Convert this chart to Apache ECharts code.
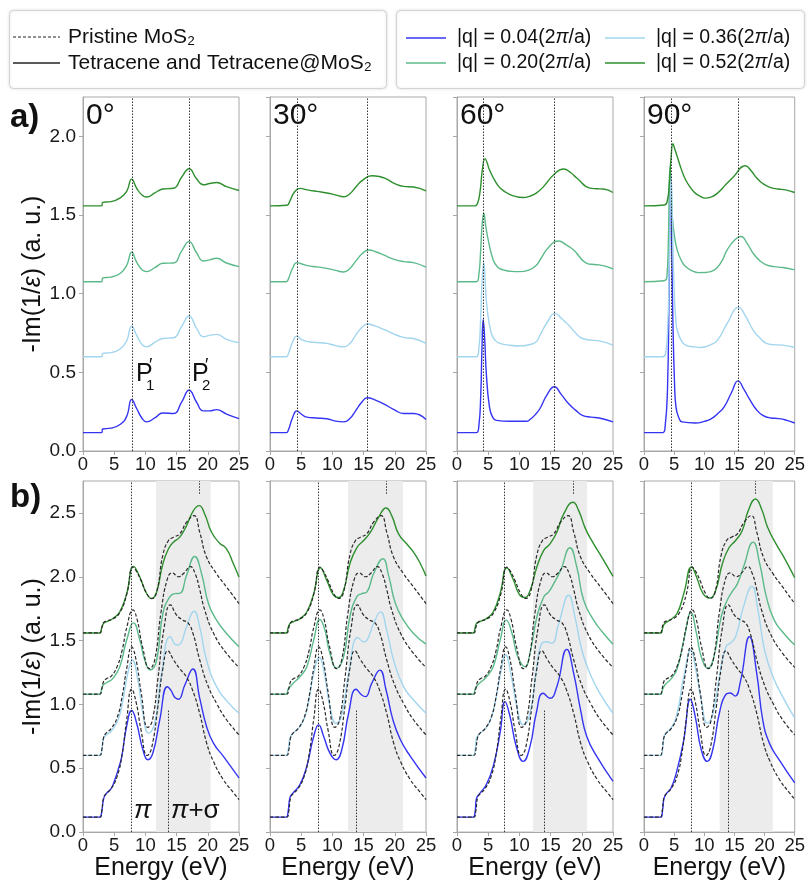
<!DOCTYPE html>
<html><head><meta charset="utf-8">
<script src="https://cdn.jsdelivr.net/npm/echarts@6/dist/echarts.min.js"></script>
<style>html,body{margin:0;padding:0;background:#fff}#c{width:808px;height:882px}</style>
</head><body><div id="c"></div>
<script>
// ---------- Row a) : -Im(1/eps) for tetracene, four angles ----------
const a0_q004=[[0,0.117],[3.0,0.117],[3.15,0.14],[4.5,0.145],[6.0,0.17],[7.0,0.22],[7.8,0.327],[8.6,0.27],[9.5,0.205],[10.2,0.185],[11.5,0.21],[12.8,0.242],[14.5,0.238],[15.8,0.31],[17.0,0.386],[18.2,0.31],[19.3,0.255],[20.3,0.255],[21.4,0.263],[23,0.235],[25,0.206]];
const a0_q036=[[0,0.599],[3.0,0.599],[3.15,0.62],[4.5,0.625],[6,0.65],[7,0.70],[7.8,0.794],[8.6,0.735],[9.5,0.675],[10.2,0.662],[11.5,0.69],[12.8,0.715],[14.5,0.72],[15.8,0.79],[17,0.858],[18.2,0.78],[19.3,0.726],[20.3,0.735],[21.4,0.741],[23,0.71],[25,0.688]];
const a0_q020=[[0,1.076],[3,1.076],[3.15,1.10],[4.5,1.105],[6,1.13],[7,1.18],[7.8,1.263],[8.6,1.20],[9.5,1.15],[10.2,1.14],[11.5,1.165],[12.8,1.193],[14.5,1.195],[15.8,1.27],[17,1.331],[18.2,1.26],[19.3,1.208],[20.3,1.215],[21.4,1.225],[23,1.195],[25,1.172]];
const a0_q052=[[0,1.558],[3,1.558],[3.15,1.58],[4.5,1.585],[6,1.61],[7,1.65],[7.8,1.728],[8.6,1.67],[9.5,1.625],[10.2,1.614],[11.5,1.64],[12.8,1.665],[14.5,1.67],[15.8,1.74],[17,1.794],[18.2,1.73],[19.3,1.692],[20.3,1.70],[21.4,1.707],[23,1.68],[25,1.656]];

const a1_q004=[[0,0.117],[2.6,0.117],[3.0,0.14],[3.6,0.21],[4.3,0.255],[5.0,0.235],[5.9,0.215],[7.5,0.21],[9.1,0.205],[10.5,0.19],[11.8,0.185],[12.8,0.206],[13.8,0.26],[14.6,0.305],[15.6,0.338],[16.8,0.325],[18.2,0.30],[19.8,0.265],[21.4,0.238],[23,0.238],[25,0.200]];
const a1_q036=[[0,0.599],[2.6,0.599],[3.0,0.625],[3.6,0.69],[4.3,0.730],[5.0,0.71],[6.0,0.695],[7.5,0.69],[9.1,0.684],[10.5,0.67],[11.8,0.662],[12.8,0.684],[13.8,0.74],[14.6,0.78],[15.6,0.807],[16.8,0.795],[18.2,0.773],[19.8,0.745],[21.4,0.722],[23,0.715],[25,0.684]];
const a1_q020=[[0,1.076],[2.6,1.076],[3.0,1.10],[3.6,1.16],[4.3,1.197],[5.0,1.19],[6,1.178],[7.5,1.17],[9.1,1.161],[10.5,1.148],[11.8,1.138],[12.8,1.16],[13.8,1.21],[14.8,1.255],[15.8,1.278],[17,1.265],[18.2,1.246],[19.8,1.22],[21.4,1.204],[23,1.197],[25,1.168]];
const a1_q052=[[0,1.558],[2.7,1.562],[3.2,1.59],[3.9,1.645],[4.8,1.669],[6,1.66],[7.5,1.65],[9.1,1.64],[10.5,1.628],[11.8,1.616],[12.8,1.635],[13.8,1.68],[14.8,1.72],[16.3,1.749],[17.5,1.745],[18.7,1.728],[20,1.70],[21.4,1.682],[23,1.678],[25,1.654]];

const a2_q004=[[0,0.117],[3.1,0.117],[3.5,0.16],[3.8,0.35],[4.0,0.65],[4.2,0.836],[4.45,0.70],[4.7,0.493],[5.2,0.28],[5.7,0.215],[6.3,0.195],[8.5,0.189],[11.1,0.189],[11.7,0.2],[12.7,0.238],[13.3,0.27],[14.4,0.355],[15.6,0.408],[16.7,0.36],[17.9,0.30],[19,0.26],[20.1,0.227],[21.5,0.215],[22.8,0.21],[25,0.185]];
const a2_q036=[[0,0.599],[3.1,0.599],[3.5,0.65],[3.8,0.85],[4.05,1.10],[4.3,1.197],[4.55,1.05],[4.8,0.917],[5.5,0.747],[6.2,0.70],[6.9,0.684],[8.5,0.672],[10,0.667],[11.5,0.675],[12.7,0.694],[13.3,0.737],[14.5,0.82],[15.7,0.875],[16.8,0.84],[17.9,0.80],[19,0.75],[20.1,0.715],[21.5,0.705],[22.8,0.70],[25,0.673]];
const a2_q020=[[0,1.076],[3.1,1.076],[3.5,1.12],[3.8,1.28],[4.05,1.45],[4.3,1.512],[4.6,1.43],[5.0,1.342],[5.8,1.214],[6.5,1.17],[7.4,1.151],[8.7,1.142],[10,1.140],[11.5,1.15],[12.7,1.18],[13.3,1.214],[14.8,1.30],[16.3,1.335],[17.5,1.31],[18.7,1.278],[20.8,1.193],[22,1.185],[22.8,1.183],[25,1.157]];
const a2_q052=[[0,1.558],[2.9,1.558],[3.3,1.575],[3.7,1.65],[4.1,1.80],[4.5,1.858],[4.8,1.835],[5.2,1.788],[6.3,1.703],[7.1,1.665],[7.9,1.643],[9.2,1.62],[10.6,1.611],[11.7,1.62],[12.7,1.639],[13.9,1.682],[15.5,1.756],[17.1,1.792],[18.2,1.77],[19.2,1.735],[21.3,1.671],[22.4,1.667],[23.5,1.665],[25,1.643]];

const a3_q004=[[0,0.117],[3.1,0.117],[3.5,0.153],[3.9,0.40],[4.15,1.0],[4.4,1.78],[4.6,1.3],[4.8,0.81],[5.05,0.45],[5.3,0.28],[5.8,0.21],[6.3,0.185],[8.5,0.178],[10,0.188],[11.2,0.206],[12.3,0.24],[13.3,0.28],[14.5,0.37],[15.6,0.446],[16.6,0.39],[17.6,0.323],[18.6,0.265],[19.7,0.227],[21,0.21],[22.4,0.206],[23.7,0.195],[25,0.178]];
const a3_q036=[[0,0.599],[3.1,0.599],[3.6,0.62],[3.95,0.80],[4.2,1.2],[4.5,1.75],[4.75,1.4],[5.0,1.02],[5.25,0.85],[5.5,0.769],[6.2,0.70],[6.9,0.673],[8.2,0.662],[9.5,0.658],[11,0.675],[12.2,0.705],[13.8,0.811],[15.7,0.913],[16.8,0.86],[18.1,0.769],[19.2,0.72],[20.3,0.684],[21.5,0.676],[23,0.673],[25,0.658]];
const a3_q020=[[0,1.076],[3.3,1.082],[3.8,1.108],[4.05,1.35],[4.3,1.805],[4.5,1.65],[4.7,1.49],[5.0,1.38],[5.5,1.278],[6.2,1.21],[6.9,1.172],[8,1.145],[9,1.134],[10.3,1.135],[11.7,1.151],[12.8,1.20],[13.8,1.278],[15,1.34],[16.1,1.363],[17.1,1.32],[18.1,1.257],[19.2,1.21],[20.3,1.183],[21.6,1.172],[23,1.166],[25,1.151]];
const a3_q052=[[0,1.558],[3.4,1.564],[3.9,1.597],[4.2,1.70],[4.5,1.87],[4.8,1.953],[5.1,1.92],[5.5,1.873],[6.2,1.79],[6.9,1.724],[7.7,1.675],[8.5,1.639],[9.3,1.62],[10.1,1.607],[11.2,1.615],[12.2,1.639],[13.5,1.69],[14.9,1.745],[16.8,1.813],[17.8,1.78],[18.7,1.735],[19.7,1.70],[20.8,1.677],[22.2,1.665],[23.5,1.660],[25,1.643]];

// ---------- Row b) : pristine MoS2 (dashed, same in every panel) ----------
const pr_q004=[[0,0.117],[2.7,0.117],[3.0,0.16],[3.3,0.27],[3.7,0.30],[4.5,0.34],[5.5,0.44],[6.3,0.62],[7.0,0.88],[7.8,1.12],[8.5,1.02],[9.3,0.80],[10.3,0.60],[11.0,0.66],[12.0,0.98],[12.8,1.28],[13.6,1.42],[14.5,1.35],[15.5,1.28],[16.5,1.22],[17.5,1.12],[18.7,0.93],[19.8,0.70],[20.9,0.554],[22.5,0.41],[24.1,0.31],[25,0.255]];
const pr_q036=[[0,0.601],[2.7,0.601],[3.0,0.64],[3.3,0.74],[3.7,0.775],[4.5,0.81],[5.5,0.90],[6.3,1.07],[7.0,1.28],[7.8,1.45],[8.5,1.35],[9.3,1.10],[10.4,0.82],[11.1,0.87],[12.0,1.20],[13.0,1.60],[14.0,1.78],[15.0,1.70],[16.0,1.66],[16.8,1.64],[17.6,1.56],[18.7,1.35],[20.0,1.15],[21.5,1.00],[23.0,0.88],[25,0.762]];
const pr_q020=[[0,1.080],[2.7,1.080],[3.0,1.12],[3.3,1.18],[3.7,1.20],[4.5,1.22],[5.5,1.30],[6.3,1.43],[7.0,1.60],[8.0,1.74],[8.7,1.66],[9.5,1.46],[10.7,1.28],[11.5,1.35],[12.5,1.72],[13.5,1.98],[14.3,2.03],[15.3,2.00],[16.2,2.03],[17.2,2.08],[18.0,2.02],[18.7,1.90],[19.5,1.74],[21.0,1.55],[23.0,1.40],[25,1.29]];
const pr_q052=[[0,1.56],[2.7,1.56],[3.0,1.60],[3.3,1.64],[3.8,1.655],[4.8,1.67],[5.9,1.72],[7.0,1.86],[8.0,2.075],[8.6,2.04],[9.3,1.97],[10.2,1.87],[11.0,1.83],[11.8,1.88],[12.8,2.17],[13.7,2.284],[14.5,2.31],[15.5,2.336],[16.6,2.427],[17.8,2.479],[18.7,2.35],[19.8,2.154],[21.4,2.024],[23,1.92],[25,1.79]];

// ---------- Row b) : tetracene@MoS2 (solid) ----------
const b0_q004=[[0,0.117],[2.7,0.117],[3.0,0.16],[3.3,0.26],[3.7,0.30],[4.5,0.34],[5.1,0.41],[5.7,0.50],[6.2,0.59],[7.0,0.83],[7.8,0.952],[8.6,0.853],[9.6,0.645],[10.4,0.567],[11.2,0.619],[12.3,0.879],[13.5,1.139],[14.1,1.11],[14.7,1.056],[15.3,1.041],[16.3,1.15],[17.6,1.277],[18.7,1.05],[19.8,0.827],[20.9,0.697],[22.5,0.593],[25,0.424]];
const b0_q036=[[0,0.601],[2.7,0.601],[3.0,0.64],[3.3,0.735],[3.7,0.76],[4.5,0.79],[5.6,0.879],[6.4,1.035],[7.2,1.25],[7.9,1.348],[8.8,1.19],[9.6,0.931],[10.5,0.775],[11.5,0.853],[12.6,1.243],[14.0,1.530],[15.0,1.465],[15.5,1.47],[16.6,1.608],[17.8,1.730],[18.7,1.608],[19.8,1.348],[21.4,1.139],[23,1.03],[25,0.931]];
const b0_q020=[[0,1.080],[2.7,1.080],[3.0,1.12],[3.3,1.155],[3.8,1.17],[4.8,1.204],[5.9,1.296],[7.0,1.504],[8.1,1.639],[9.1,1.504],[9.9,1.348],[10.8,1.270],[11.8,1.348],[12.8,1.712],[13.9,1.842],[14.7,1.868],[15.5,1.87],[16.6,2.011],[17.9,2.159],[19.0,2.024],[20.1,1.790],[21.4,1.660],[23,1.556],[25,1.452]];
const b0_q052=[[0,1.56],[2.7,1.56],[3.0,1.60],[3.3,1.635],[3.7,1.646],[4.8,1.673],[5.9,1.725],[7.0,1.868],[8.1,2.081],[9.1,1.998],[10.2,1.868],[11.0,1.829],[11.8,1.881],[12.8,2.102],[13.7,2.219],[14.5,2.271],[15.5,2.310],[16.6,2.401],[17.7,2.518],[18.6,2.557],[19.5,2.492],[20.6,2.349],[21.9,2.263],[23,2.219],[24.1,2.102],[25,1.998]];

const b1_q004=[[0,0.117],[2.6,0.117],[2.9,0.16],[3.2,0.27],[3.7,0.307],[4.8,0.372],[5.9,0.515],[7.0,0.749],[7.8,0.840],[8.6,0.749],[9.6,0.619],[10.6,0.567],[11.5,0.645],[12.6,0.931],[13.8,1.119],[14.7,1.074],[15.3,1.061],[16.3,1.165],[17.6,1.269],[18.6,1.113],[19.7,0.879],[20.9,0.723],[22.5,0.593],[25,0.424]];
const b1_q036=[[0,0.601],[2.6,0.601],[2.9,0.64],[3.2,0.736],[3.7,0.775],[4.8,0.827],[5.9,0.957],[7.0,1.243],[7.9,1.368],[8.8,1.217],[9.6,0.983],[10.6,0.853],[11.5,0.918],[12.6,1.243],[14.1,1.524],[15.0,1.491],[15.5,1.50],[16.6,1.634],[17.7,1.725],[18.7,1.582],[19.8,1.348],[21.4,1.139],[23,1.035],[25,0.931]];
const b1_q020=[[0,1.080],[2.6,1.080],[2.9,1.12],[3.2,1.139],[3.7,1.165],[4.8,1.217],[5.9,1.296],[7.0,1.504],[8.0,1.665],[8.8,1.582],[9.6,1.400],[10.7,1.283],[11.8,1.374],[12.8,1.686],[13.9,1.842],[14.7,1.868],[15.5,1.88],[16.6,2.024],[18.1,2.141],[19.0,2.011],[20.1,1.790],[21.4,1.660],[23,1.556],[25,1.472]];
const b1_q052=[[0,1.56],[2.6,1.56],[2.9,1.60],[3.2,1.633],[3.7,1.646],[4.8,1.672],[5.9,1.724],[7.0,1.868],[8.1,2.071],[9.1,1.972],[10.2,1.855],[11.0,1.837],[11.8,1.894],[12.8,2.102],[13.9,2.227],[15.0,2.284],[16.1,2.349],[17.4,2.466],[18.6,2.539],[19.5,2.479],[20.6,2.336],[21.9,2.258],[23,2.193],[24.1,2.102],[25,2.006]];

const b2_q004=[[0,0.117],[2.6,0.117],[2.9,0.16],[3.1,0.26],[3.6,0.30],[4.7,0.372],[5.8,0.515],[6.9,0.775],[7.7,1.022],[8.5,0.905],[9.5,0.671],[10.6,0.554],[11.7,0.671],[12.7,0.931],[13.8,1.087],[14.9,1.048],[16.0,1.139],[17.6,1.431],[18.7,1.243],[19.8,0.957],[20.8,0.749],[22.4,0.593],[25,0.398]];
const b2_q036=[[0,0.601],[2.6,0.601],[2.9,0.64],[3.1,0.73],[3.6,0.77],[4.7,0.82],[5.8,0.95],[6.9,1.22],[7.8,1.387],[8.7,1.22],[9.6,0.98],[10.6,0.840],[11.7,0.931],[12.8,1.296],[13.6,1.478],[14.4,1.491],[15.2,1.478],[16.3,1.634],[17.9,1.855],[18.9,1.686],[20,1.426],[21.3,1.243],[22.9,1.087],[25,0.931]];
const b2_q020=[[0,1.080],[2.6,1.080],[2.9,1.12],[3.1,1.14],[3.6,1.165],[4.7,1.215],[5.8,1.295],[6.9,1.50],[7.9,1.660],[8.8,1.56],[9.7,1.38],[10.9,1.296],[11.7,1.400],[12.8,1.686],[13.9,1.842],[14.7,1.881],[15.5,1.946],[16.6,2.050],[18.1,2.227],[19.2,2.076],[20.3,1.816],[21.9,1.660],[23.5,1.556],[25,1.472]];
const b2_q052=[[0,1.56],[2.6,1.56],[2.9,1.60],[3.1,1.633],[3.6,1.646],[4.7,1.672],[5.8,1.724],[6.9,1.868],[8.0,2.071],[9.0,1.98],[10.0,1.86],[10.9,1.837],[11.7,1.89],[12.8,2.076],[13.9,2.206],[14.9,2.258],[16.0,2.349],[17.1,2.492],[18.6,2.583],[19.5,2.518],[20.6,2.375],[21.9,2.258],[23.2,2.154],[25,2.003]];

const b3_q004=[[0,0.117],[2.8,0.117],[3.1,0.18],[3.3,0.26],[3.6,0.294],[4.5,0.346],[5.5,0.489],[6.6,0.723],[7.7,1.041],[8.5,0.905],[9.5,0.645],[10.5,0.554],[11.4,0.645],[12.5,0.931],[13.6,1.08],[14.3,1.09],[15.1,1.065],[16.0,1.18],[17.5,1.530],[18.7,1.243],[19.7,0.879],[20.8,0.697],[22.4,0.567],[25,0.385]];
const b3_q036=[[0,0.601],[2.8,0.601],[3.1,0.66],[3.3,0.74],[3.6,0.775],[4.5,0.814],[5.5,0.931],[6.6,1.217],[7.8,1.426],[8.5,1.296],[9.5,1.035],[10.5,0.853],[11.4,0.918],[12.5,1.217],[13.6,1.452],[14.4,1.483],[15.2,1.53],[16.5,1.764],[17.9,1.925],[18.9,1.738],[20,1.426],[21.4,1.217],[23,1.061],[25,0.892]];
const b3_q020=[[0,1.080],[2.8,1.080],[3.1,1.12],[3.3,1.14],[3.6,1.16],[4.5,1.2],[5.5,1.28],[6.6,1.504],[7.8,1.717],[8.7,1.556],[9.5,1.374],[10.6,1.283],[11.6,1.374],[12.8,1.686],[13.8,1.816],[14.6,1.881],[15.5,1.946],[16.5,2.076],[18.1,2.271],[19.2,2.102],[20.3,1.842],[21.6,1.660],[23.2,1.556],[25,1.465]];
const b3_q052=[[0,1.56],[2.8,1.56],[3.1,1.60],[3.3,1.625],[3.6,1.64],[4.5,1.667],[5.5,1.714],[6.6,1.868],[7.9,2.076],[8.7,2.0],[9.8,1.868],[10.9,1.834],[11.9,1.894],[13.0,2.102],[14.1,2.227],[15.2,2.284],[16.3,2.362],[17.3,2.518],[18.5,2.609],[19.5,2.531],[20.5,2.388],[21.9,2.258],[23.2,2.154],[25,1.993]];

// ---------- markers ----------
const angles=['0°','30°','60°','90°'];
const aPeaks=[[7.9,17.0],[4.3,15.6],[4.2,15.6],[4.45,15.66]];
const bPi=[7.8,7.76,7.65,7.78];
const bLow=[13.7,13.9,14.0,14.0];   // from y=0 to lowTop
const lowTop=0.96;
const bTop=[18.6,18.6,18.55,18.45]; // from topBottom to top
const topBottom=2.65;
const bShade=[[11.7,20.45],[12.5,21.3],[12.2,20.85],[12.55,21.35]];
const xTicks=[0,5,10,15,20,25];
const qLabels=['0.04','0.20','0.36','0.52'];

const rowA=[[a0_q004,a0_q020,a0_q036,a0_q052],[a1_q004,a1_q020,a1_q036,a1_q052],[a2_q004,a2_q020,a2_q036,a2_q052],[a3_q004,a3_q020,a3_q036,a3_q052]];
const rowB=[[b0_q004,b0_q020,b0_q036,b0_q052],[b1_q004,b1_q020,b1_q036,b1_q052],[b2_q004,b2_q020,b2_q036,b2_q052],[b3_q004,b3_q020,b3_q036,b3_q052]];
const pristine=[pr_q004,pr_q020,pr_q036,pr_q052];

const COLORS=['#3434f2','#5cba8a','#a2d5ee','#2e8f2e'];
const FONT="'Liberation Sans', Arial, Helvetica, sans-serif";
const GRAY='#a8a8a8';
const lefts=[83,270,457,644];
const W=156;
const rows=[{top:97,height:354,max:2.25},{top:481,height:352,max:2.75}];

const grids=[],xAxes=[],yAxes=[],series=[];
for(let r=0;r<2;r++){
  for(let c=0;c<4;c++){
    const idx=r*4+c;
    grids.push({left:lefts[c],top:rows[r].top,width:W,height:rows[r].height,show:true,borderColor:GRAY,borderWidth:1,backgroundColor:'rgba(0,0,0,0)'});
    xAxes.push({gridIndex:idx,type:'value',min:xTicks[0],max:xTicks[xTicks.length-1],interval:5,
      axisLine:{show:true,onZero:false,lineStyle:{color:GRAY}},
      axisTick:{show:true,length:4,lineStyle:{color:GRAY}},
      splitLine:{show:false},
      axisLabel:{fontSize:18.5,color:'#1a1a1a',margin:4,fontFamily:FONT},
      name:r===1?'Energy (eV)':'',nameLocation:'middle',nameGap:22,
      nameTextStyle:{fontSize:25,color:'#111',fontFamily:FONT}});
    yAxes.push({gridIndex:idx,type:'value',min:0,max:rows[r].max,interval:0.5,
      axisLine:{show:true,lineStyle:{color:GRAY}},
      axisTick:{show:true,length:4,lineStyle:{color:GRAY}},
      splitLine:{show:false},
      axisLabel:{show:c===0,showMaxLabel:false,fontSize:19,color:'#1a1a1a',margin:7,fontFamily:FONT,
        formatter:v=>Math.abs(v*2-Math.round(v*2))<1e-6?v.toFixed(1):''},
      name:c===0?'-Im(1/{i|ε}) (a. u.)':'',nameLocation:'middle',nameRotate:90,nameGap:35,
      nameTextStyle:{fontSize:25,color:'#111',fontFamily:FONT,rich:{i:{fontSize:25,fontStyle:'italic',fontFamily:FONT,color:'#111'}}}});
    if(r===1){
      series.push({type:'line',xAxisIndex:idx,yAxisIndex:idx,data:[],z:0,silent:true,
        markArea:{silent:true,itemStyle:{color:'#ececec'},data:[[{xAxis:bShade[c][0]},{xAxis:bShade[c][1]}]]}});
    }
    let ml;
    if(r===0){ ml=aPeaks[c].map(v=>({xAxis:v})); }
    else {
      ml=[{xAxis:bPi[c]},
          [{coord:[bLow[c],0]},{coord:[bLow[c],lowTop]}],
          [{coord:[bTop[c],topBottom]},{coord:[bTop[c],rows[1].max]}]];
    }
    series.push({type:'line',xAxisIndex:idx,yAxisIndex:idx,data:[],z:1,silent:true,
      markLine:{silent:true,symbol:['none','none'],label:{show:false},animation:false,
        lineStyle:{color:'#333',type:[1.5,1.5],width:1},data:ml}});
    const curves=r===0?rowA[c]:rowB[c];
    curves.forEach((d,k)=>{
      series.push({type:'line',xAxisIndex:idx,yAxisIndex:idx,data:d,symbol:'none',smooth:0.5,silent:true,
        lineStyle:{color:COLORS[k],width:1.4},z:3});
    });
    if(r===1){
      pristine.forEach(d=>{
        series.push({type:'line',xAxisIndex:idx,yAxisIndex:idx,data:d,symbol:'none',smooth:0.5,silent:true,
          lineStyle:{color:'#2a2a2a',width:1.2,type:[3.5,2]},z:4});
      });
    }
  }
}

// ---------- texts & legend ----------
const graphic=[];
function txt(x,y,text,size,opt){
  graphic.push({type:'text',x:x,y:y,z:50,style:Object.assign({text:text,fontSize:size,fontFamily:FONT,fill:'#111',verticalAlign:'middle'},opt||{})});
}
txt(10,118,'a)',33,{fontWeight:'bold'});
txt(10,498,'b)',33,{fontWeight:'bold'});
angles.forEach((a,i)=>txt(lefts[i]+3,116,a,30));
txt(136,374,'P',25); txt(149,366,'′',18); txt(146,386,'1',15);
txt(192,374,'P',25); txt(205,366,'′',18); txt(202,386,'2',15);
txt(134,811,'π',26,{fontStyle:'italic'});
txt(171,811,'{i|π}+σ',26,{rich:{i:{fontStyle:'italic',fontSize:26,fontFamily:FONT,fill:'#111'}}});
graphic.push({type:'rect',shape:{x:9.5,y:10.5,width:377,height:78,r:4},style:{fill:'#fff',stroke:'#d4d4d4',lineWidth:1,shadowBlur:3,shadowColor:'rgba(0,0,0,0.12)'},z:40});
graphic.push({type:'rect',shape:{x:396.5,y:10.5,width:408,height:78,r:4},style:{fill:'#fff',stroke:'#d4d4d4',lineWidth:1,shadowBlur:3,shadowColor:'rgba(0,0,0,0.12)'},z:40});
graphic.push({type:'line',shape:{x1:13,y1:37,x2:60,y2:37},style:{stroke:'#222',lineWidth:1.2,lineDash:[3,2]},z:45});
graphic.push({type:'line',shape:{x1:13,y1:63,x2:60,y2:63},style:{stroke:'#222',lineWidth:1.3},z:45});
txt(68,37,'Pristine MoS₂',21);
txt(68,63,'Tetracene and Tetracene@MoS₂',21);
const legPos=[[406,38],[406,63],[605,38],[605,63]];
legPos.forEach((p,k)=>{
  graphic.push({type:'line',shape:{x1:p[0],y1:p[1],x2:p[0]+40,y2:p[1]},style:{stroke:COLORS[k],lineWidth:1.6},z:45});
  txt(p[0]+51,p[1],'|q| = '+qLabels[k]+'(2{i|π}/a)',19.5,{rich:{i:{fontStyle:'italic',fontSize:19.5,fontFamily:FONT,fill:'#111'}}});
});

const chart=echarts.init(document.getElementById('c'),null,{renderer:'canvas'});
chart.setOption({animation:false,backgroundColor:'#fff',grid:grids,xAxis:xAxes,yAxis:yAxes,series:series,graphic:graphic});
</script></body></html>
